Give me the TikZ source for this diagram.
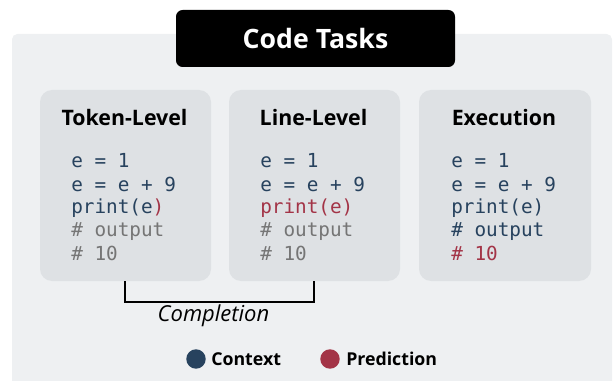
\documentclass[tikz,border=0pt]{standalone}
\usepackage{fontspec}
\setmainfont{Open Sans}
\setmonofont{DejaVu Sans Mono}
\definecolor{panel}{HTML}{EEF0F2}
\definecolor{boxfill}{HTML}{DEE1E4}
\definecolor{ctx}{HTML}{27425E}
\definecolor{pred}{HTML}{A33447}
\definecolor{cmt}{HTML}{757575}
\tikzset{
  taskbox/.style={fill=boxfill, rounded corners=9pt},
  tasktitle/.style={font=\bfseries\fontsize{16}{19}\selectfont, anchor=base},
  codeline/.style={font=\ttfamily\fontsize{14.5}{17}\selectfont, anchor=base west, inner sep=0pt},
  legendtext/.style={font=\bfseries\fontsize{13.3}{16}\selectfont, anchor=base west, inner sep=0pt},
}
\begin{document}
\begin{tikzpicture}[x=0.75pt,y=-0.75pt]
\useasboundingbox (0,0) rectangle (614,381);
% outer panel
\fill[panel, rounded corners=4pt] (12,34) rectangle (612,400);
% title
\node[fill=black, rounded corners=5pt, minimum width=279*0.75pt, minimum height=57*0.75pt, inner sep=0pt] (title) at (315.5,38.5) {};
\node[text=white, font=\bfseries\fontsize{20}{24}\selectfont] (titletext) at (title.center) {Code Tasks};
% boxes
\fill[taskbox] (40,90) rectangle (211,281);
\fill[taskbox] (229,90) rectangle (400,281);
\fill[taskbox] (419,90) rectangle (591,281);
\node[tasktitle] (t1) at (124.5,126) {Token-Level};
\node[tasktitle] (t2) at (313.5,126) {Line-Level};
\node[tasktitle] (t3) at (504,126) {Execution};
% code 1
\node[codeline, text=ctx] (a1) at (71,168) {e = 1};
\node[codeline, text=ctx] (a2) at (71,191) {e = e + 9};
\node[codeline, text=ctx] (a3) at (71,214) {print(e\textcolor{pred}{)}};
\node[codeline, text=cmt] (a4) at (71,237) {\# output};
\node[codeline, text=cmt] (a5) at (71,260) {\# 10};
% code 2
\node[codeline, text=ctx] (c1) at (260,168) {e = 1};
\node[codeline, text=ctx] (c2) at (260,191) {e = e + 9};
\node[codeline, text=pred] (c3) at (260,214) {print(e)};
\node[codeline, text=cmt] (c4) at (260,237) {\# output};
\node[codeline, text=cmt] (c5) at (260,260) {\# 10};
% code 3
\node[codeline, text=ctx] (d1) at (451,168) {e = 1};
\node[codeline, text=ctx] (d2) at (451,191) {e = e + 9};
\node[codeline, text=ctx] (d3) at (451,214) {print(e)};
\node[codeline, text=ctx] (d4) at (451,237) {\# output};
\node[codeline, text=pred] (d5) at (451,260) {\# 10};
% bracket
\coordinate (k1) at (125,281);
\coordinate (k2) at (125,302);
\coordinate (k3) at (314,302);
\coordinate (k4) at (314,281);
\draw[line width=1.5pt, black] (k1) -- (k2) -- (k3) -- (k4);
\node[font=\itshape\fontsize{16.5}{19}\selectfont] (compl) at (213.5,316) {Completion};
% legend
\fill[ctx] (196,359) circle (7.3pt);
\node[legendtext] (lctx) at (211,365) {Context};
\fill[pred] (330,359) circle (7.3pt);
\node[legendtext] (lpred) at (346,365) {Prediction};
\end{tikzpicture}
\end{document}
